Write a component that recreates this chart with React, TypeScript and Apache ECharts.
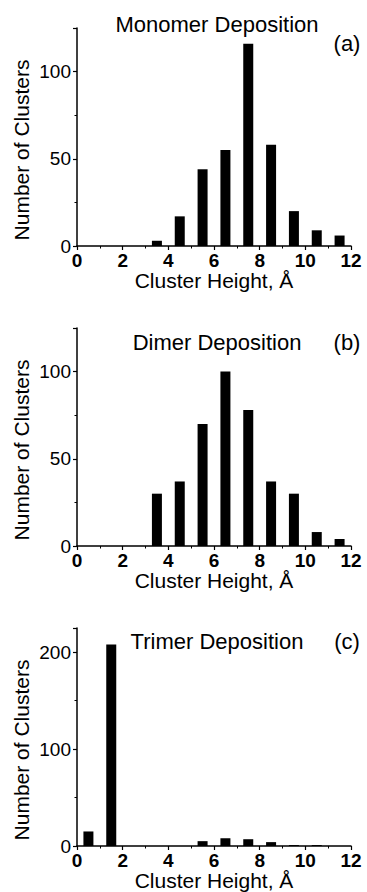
import React, { useEffect, useRef } from "react";
import * as echarts from "echarts";

const heightBins = [0.5, 1.5, 2.5, 3.5, 4.5, 5.5, 6.5, 7.5, 8.5, 9.5, 10.5, 11.5];
const monomerCounts = [0, 0, 0, 3, 17, 44, 55, 116, 58, 20, 9, 6];
const dimerCounts = [0, 0, 0, 30, 37, 70, 100, 78, 37, 30, 8, 4];
const trimerCounts = [15, 208, 0, 0, 0, 5, 8, 7, 4, 1, 1, 0];

const panelTitles = ["Monomer Deposition", "Dimer Deposition", "Trimer Deposition"];
const panelTags = ["(a)", "(b)", "(c)"];
const yMaxes = [125, 125, 225];
const yIntervals = [50, 50, 100];
const xAxisName = "Cluster Height, Å";
const yAxisName = "Number of Clusters";

const FONT = '"Liberation Sans", Arial, Helvetica, sans-serif';

export default function App() {
  const ref = useRef<HTMLDivElement>(null);
  useEffect(() => {
    if (!ref.current) return;
    const chart = echarts.init(ref.current, undefined, { renderer: "svg" });
    const tops = [28, 328, 628];
    const seriesData = [monomerCounts, dimerCounts, trimerCounts];
    const grids = tops.map((t) => ({ left: 77, top: t, width: 274, height: 218 }));
    const axisLineStyle = { color: "#000", width: 1.5 };
    const xAxes = tops.map((_, i) => ({
      type: "value",
      gridIndex: i,
      min: 0,
      max: 12,
      interval: 2,
      name: xAxisName,
      nameLocation: "middle",
      nameGap: 24,
      nameMoveOverlap: false,
      nameTextStyle: { fontFamily: FONT, fontSize: 21, color: "#000" },
      axisLine: { show: true, lineStyle: axisLineStyle },
      axisTick: { show: true, length: 4, lineStyle: { color: "#000", width: 1.2 } },
      minorTick: { show: true, splitNumber: 2, length: 2.5, lineStyle: { color: "#000", width: 1 } },
      axisLabel: { fontFamily: FONT, fontSize: 19, fontWeight: "bold", color: "#000", margin: 5 },
      splitLine: { show: false },
    }));
    const yAxes = tops.map((_, i) => ({
      type: "value",
      gridIndex: i,
      min: 0,
      max: yMaxes[i],
      interval: yIntervals[i],
      name: yAxisName,
      nameLocation: "middle",
      nameGap: 45,
      nameMoveOverlap: false,
      nameTextStyle: { fontFamily: FONT, fontSize: 21, color: "#000", padding: [0, 26, 0, 0] },
      axisLine: { show: true, lineStyle: axisLineStyle },
      axisTick: { show: true, length: 4, lineStyle: { color: "#000", width: 1.2 } },
      minorTick: { show: true, splitNumber: 2, length: 2.5, lineStyle: { color: "#000", width: 1 } },
      axisLabel: { fontFamily: FONT, fontSize: 19, color: "#000", margin: 6, showMaxLabel: false },
      splitLine: { show: false },
    }));
    const series = seriesData.map((vals, i) => ({
      type: "bar",
      xAxisIndex: i,
      yAxisIndex: i,
      barWidth: 10,
      itemStyle: { color: "#000" },
      data: heightBins.map((b, j) => [b, vals[j]]),
    }));
    const titleTops = [13, 331, 630];
    const tagTops = [32, 331, 630];
    const titles: any[] = [];
    panelTitles.forEach((t, i) => {
      titles.push({
        text: t,
        left: 217,
        top: titleTops[i],
        textAlign: "center",
        padding: 0,
        textStyle: { fontFamily: FONT, fontSize: 22, fontWeight: "normal", color: "#000" },
      });
      titles.push({
        text: panelTags[i],
        left: 347,
        top: tagTops[i],
        textAlign: "center",
        padding: 0,
        textStyle: { fontFamily: FONT, fontSize: 22, fontWeight: "normal", color: "#000" },
      });
    });
    chart.setOption({
      animation: false,
      backgroundColor: "#fff",
      title: titles,
      grid: grids,
      xAxis: xAxes,
      yAxis: yAxes,
      series,
    } as any);
    return () => chart.dispose();
  }, []);
  return (
    <div
      ref={ref}
      style={{ position: "fixed", left: 0, top: 0, width: 367, height: 892, background: "#fff" }}
    />
  );
}
